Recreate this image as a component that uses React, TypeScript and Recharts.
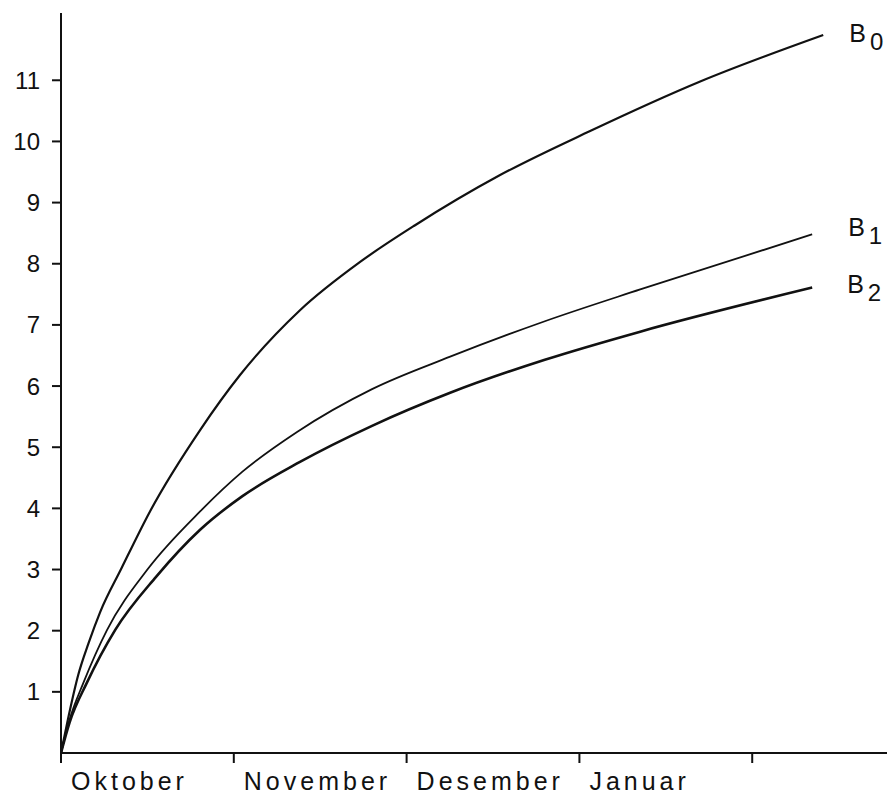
import React from 'react';
import { LineChart, Line, XAxis, YAxis } from 'recharts';

// month index: 0 = start of Oktober, 1 = start of November, ...
const monthTicks = [0, 1, 2, 3, 4];
const monthNames = ['Oktober', 'November', 'Desember', 'Januar'];
const valueTicks = [1, 2, 3, 4, 5, 6, 7, 8, 9, 10, 11];

const b0Months = [0, 0.04, 0.1, 0.16, 0.226, 0.35, 0.515, 0.805, 1.036, 1.383, 1.731, 2.049, 2.541, 3.062, 3.699, 4.411];
const b0Values = [0, 0.55, 1.28, 1.8, 2.3, 3.02, 3.95, 5.28, 6.18, 7.24, 8.03, 8.63, 9.45, 10.17, 10.98, 11.74];

const b1Months = [0, 0.05, 0.13, 0.266, 0.5, 0.805, 1.05, 1.366, 1.8, 2.252, 2.8, 3.352, 4.347];
const b1Values = [0, 0.55, 1.15, 2.01, 3.0, 3.95, 4.6, 5.25, 5.95, 6.48, 7.06, 7.58, 8.48];

const b2Months = [0, 0.05, 0.15, 0.313, 0.55, 0.805, 1.05, 1.383, 1.8, 2.252, 2.8, 3.352, 4.347];
const b2Values = [0, 0.5, 1.15, 2.01, 2.88, 3.65, 4.2, 4.76, 5.35, 5.89, 6.43, 6.89, 7.61];

const toRows = (months: number[], values: number[]) =>
  months.map((m, i) => ({ month: m, value: values[i] }));

const FONT = '"Liberation Sans", Arial, Helvetica, sans-serif';

// "B" with a subscript digit, drawn just past the last point of a curve
const endLabel = (count: number, sub: string, dx: number, dy: number) => (props: any) => {
  const { x, y, index } = props;
  if (index !== count - 1) return null;
  return (
    <text key={`lbl-${sub}`} x={x + dx} y={y + dy} fontFamily={FONT} fontSize={25} fill="#111">
      B
      <tspan dx={4} dy={8} fontSize={24}>{sub}</tspan>
    </text>
  );
};

const MonthTick = (props: any) => {
  const { x, y, payload } = props;
  const name = monthNames[payload.value];
  if (!name) return null;
  return (
    <text x={x + 10} y={y + 25} fontFamily={FONT} fontSize={25} letterSpacing={4} fill="#111" textAnchor="start">
      {name}
    </text>
  );
};

const series = [
  { key: 'B0', months: b0Months, values: b0Values, sub: '0', dx: 26, dy: 7, width: 2.2 },
  { key: 'B1', months: b1Months, values: b1Values, sub: '1', dx: 36, dy: 2, width: 1.8 },
  { key: 'B2', months: b2Months, values: b2Values, sub: '2', dx: 35, dy: 5, width: 2.6 },
];

export default function App() {
  return (
    <div style={{ position: 'absolute', left: 0, top: 0, width: 890, height: 798, background: '#fff' }}>
      <LineChart width={890} height={798} margin={{ top: 13, right: 3, left: 0, bottom: 0 }}>
        <XAxis
          type="number"
          dataKey="month"
          domain={[0, 4.78]}
          ticks={monthTicks}
          interval={0}
          height={45}
          tickSize={10}
          tickMargin={2}
          stroke="#111"
          strokeWidth={2}
          tick={<MonthTick />}
          allowDataOverflow
        />
        <YAxis
          type="number"
          dataKey="value"
          width={61}
          domain={[0, 12.1]}
          ticks={valueTicks}
          interval={0}
          tickSize={9}
          tickMargin={12}
          stroke="#111"
          strokeWidth={2}
          tick={{ fill: '#111', fontSize: 24, fontFamily: FONT }}
          allowDataOverflow
        />
        {series.map((s) => (
          <Line
            key={s.key}
            data={toRows(s.months, s.values)}
            dataKey="value"
            type="monotone"
            stroke="#111"
            strokeWidth={s.width}
            dot={false}
            activeDot={false}
            isAnimationActive={false}
            label={endLabel(s.months.length, s.sub, s.dx, s.dy)}
          />
        ))}
      </LineChart>
    </div>
  );
}
